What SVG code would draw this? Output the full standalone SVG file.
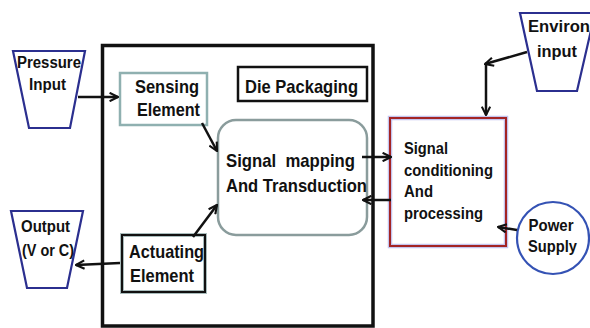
<svg xmlns="http://www.w3.org/2000/svg" width="590" height="328" viewBox="0 0 590 328">
<style>
text{font-family:"Liberation Sans",Arial,sans-serif;font-weight:bold;font-size:17px;fill:#111}
.big{font-size:19px}
.sm{font-size:16px}
.trap{fill:#fff;stroke:#2b2f8f;stroke-width:2.2}
.conn{stroke:#111;stroke-width:2.5;fill:none}
</style>
<defs>
<marker id="ah" viewBox="0 0 10 10" refX="9" refY="5" markerWidth="4.2" markerHeight="4.2" orient="auto" markerUnits="strokeWidth">
<path d="M1,1 L9,5 L1,9" fill="none" stroke="#111" stroke-width="2"/>
</marker>
</defs>
<rect width="590" height="328" fill="#fff"/>
<g id="die-frame"><rect x="102.5" y="45.5" width="270.5" height="280.5" fill="none" stroke="#111" stroke-width="3.5"/></g>
<g id="pressure-input">
<polygon class="trap" points="13,51 85,51 70,128 29,128"/>
<text class="sm" x="49" y="68" text-anchor="middle" textLength="64" lengthAdjust="spacingAndGlyphs">Pressure</text>
<text class="sm" x="47.5" y="90" text-anchor="middle" textLength="37" lengthAdjust="spacingAndGlyphs">Input</text>
</g>
<g id="sensing-element">
<rect x="120" y="73" width="87" height="52" fill="#fff" stroke="#8fb0b0" stroke-width="2.5"/>
<text class="big" x="135" y="93" textLength="64" lengthAdjust="spacingAndGlyphs">Sensing</text>
<text class="big" x="137" y="116" textLength="63" lengthAdjust="spacingAndGlyphs">Element</text>
</g>
<g id="die-packaging">
<rect x="238" y="67" width="129" height="34" fill="#fff" stroke="#111" stroke-width="2.5"/>
<text class="big" x="245" y="93" textLength="113" lengthAdjust="spacingAndGlyphs">Die Packaging</text>
</g>
<g id="signal-mapping">
<rect x="218" y="120" width="149" height="115" rx="18" fill="#fff" stroke="#8a9c9c" stroke-width="2.5"/>
<text class="big" x="226" y="167" textLength="129" lengthAdjust="spacingAndGlyphs" xml:space="preserve">Signal  mapping</text>
<text class="big" x="226" y="192" textLength="141" lengthAdjust="spacingAndGlyphs">And Transduction</text>
</g>
<g id="actuating-element">
<rect x="122" y="235" width="83" height="57" fill="#fff" stroke="#a9bcbc" stroke-width="4"/>
<rect x="122" y="235" width="83" height="57" fill="none" stroke="#111" stroke-width="2"/>
<text class="big" x="129" y="258" textLength="75" lengthAdjust="spacingAndGlyphs">Actuating</text>
<text class="big" x="130" y="282" textLength="64" lengthAdjust="spacingAndGlyphs">Element</text>
</g>
<g id="output">
<polygon class="trap" points="11,211 83,211 67,288 27,288"/>
<text class="sm" x="45.5" y="232" text-anchor="middle" textLength="49" lengthAdjust="spacingAndGlyphs">Output</text>
<text class="sm" x="48" y="256" text-anchor="middle" textLength="52" lengthAdjust="spacingAndGlyphs">(V or C)</text>
</g>
<g id="signal-conditioning">
<rect x="390" y="118" width="116" height="128" fill="#fff" stroke="#c4c4ee" stroke-width="4.5"/>
<rect x="390" y="118" width="116" height="128" fill="none" stroke="#a32424" stroke-width="2"/>
<text x="404" y="154" textLength="44" lengthAdjust="spacingAndGlyphs">Signal</text>
<text x="404" y="176" textLength="89" lengthAdjust="spacingAndGlyphs">conditioning</text>
<text x="404" y="197" textLength="29" lengthAdjust="spacingAndGlyphs">And</text>
<text x="404" y="219" textLength="79" lengthAdjust="spacingAndGlyphs">processing</text>
</g>
<g id="environ-input">
<polygon class="trap" points="520,13 595,13 577,91 537,91"/>
<text x="528" y="32" textLength="62" lengthAdjust="spacingAndGlyphs">Environ</text>
<text x="557" y="57" text-anchor="middle" textLength="40" lengthAdjust="spacingAndGlyphs">input</text>
</g>
<g id="power-supply">
<circle cx="553" cy="238" r="36" fill="#fff" stroke="#3452b4" stroke-width="2.2"/>
<text x="551" y="231" text-anchor="middle" textLength="45" lengthAdjust="spacingAndGlyphs">Power</text>
<text x="552.5" y="252" text-anchor="middle" textLength="49" lengthAdjust="spacingAndGlyphs">Supply</text>
</g>
<g id="connectors">
<line class="conn" x1="78" y1="97" x2="118" y2="97" marker-end="url(#ah)"/>
<line class="conn" x1="202" y1="123" x2="217" y2="151" marker-end="url(#ah)"/>
<line class="conn" x1="193" y1="237" x2="217" y2="205" marker-end="url(#ah)"/>
<line class="conn" x1="362" y1="157" x2="391" y2="157" marker-end="url(#ah)"/>
<line class="conn" x1="391" y1="200" x2="363" y2="200" marker-end="url(#ah)"/>
<line class="conn" x1="120" y1="263" x2="76" y2="265" marker-end="url(#ah)"/>
<line class="conn" x1="527" y1="52" x2="485" y2="64" marker-end="url(#ah)"/>
<line class="conn" x1="486" y1="65" x2="486" y2="115" marker-end="url(#ah)"/>
<line class="conn" x1="517" y1="230" x2="498" y2="227" marker-end="url(#ah)"/>
</g>
</svg>
